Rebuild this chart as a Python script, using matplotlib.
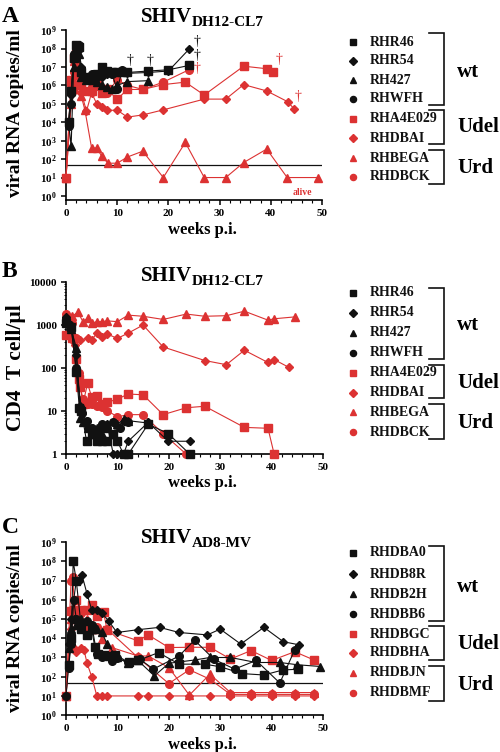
import numpy as np
import matplotlib
matplotlib.use("Agg")
import matplotlib.pyplot as plt
from matplotlib.ticker import FixedLocator, MultipleLocator, FuncFormatter, LogLocator, NullFormatter

plt.rcParams['font.family'] = 'Liberation Serif'
plt.rcParams['font.weight'] = 'bold'
plt.rcParams['mathtext.fontset'] = 'custom'
plt.rcParams['mathtext.rm'] = 'Liberation Serif:bold'
plt.rcParams['mathtext.bf'] = 'Liberation Serif:bold'

RED = '#dc3232'
BLK = '#111111'

# ---------------- panel A : SHIV DH12-CL7 viral RNA ----------------
a_names = ['RHR46', 'RHR54', 'RH427', 'RHWFH', 'RHA4E029', 'RHDBAI', 'RHBEGA', 'RHDBCK']
a_weeks = [
    [0.5, 1, 1.5, 2, 2.5, 3, 4, 5, 6, 7, 8, 9, 10, 11, 12, 16, 20, 24],
    [0.5, 1, 1.5, 2, 2.5, 3, 4, 5, 6, 7, 8, 9, 10, 11, 12, 16, 20, 24],
    [0.5, 1, 1.5, 2, 2.5, 3, 4, 5, 6, 7, 8, 9, 10, 12, 16],
    [0.5, 1, 1.5, 2, 2.5, 3, 4, 5, 6, 7, 8, 9, 10, 11, 12],
    [0, 1, 1.5, 2, 2.5, 3, 4, 5, 6, 7, 8, 10, 12, 15, 19, 23.3, 27, 34.7, 39.2, 40.5],
    [0, 1, 1.5, 2, 3, 4, 5, 6, 7, 8, 10, 12, 15, 19, 27, 31.2, 34.7, 39.2, 43.3, 44.5],
    [0, 1, 1.5, 2, 2.5, 3, 3.7, 5, 6, 7, 8.2, 10, 12, 15, 19, 23.3, 27, 31.2, 34.7, 39.2, 43.2, 49.2],
    [0, 1, 1.5, 2, 2.5, 3, 4, 5, 6, 7, 8, 10, 12, 15, 19, 24],
]
a_vals = [
    [1e4, 5e5, 3e7, 1.5e8, 1.2e8, 5e6, 3e6, 3e6, 4e6, 1e7, 6e6, 5e6, 5e6, 5e6, 5e6, 6e6, 7e6, 1.2e7],
    [1e4, 3e5, 5e7, 1e8, 8e7, 1e7, 3e6, 2.5e6, 3e6, 3e6, 4e6, 4e6, 5e6, 5e6, 4.5e6, 5e6, 6e6, 9e7],
    [1e4, 5e2, 1e7, 1.5e8, 5e7, 3e6, 2e6, 2e6, 1.5e6, 1e6, 8e5, 6e5, 1e6, 1.6e6, 1.8e6],
    [6e3, 1e5, 5e7, 1.5e8, 1.5e8, 8e6, 3e6, 4e6, 3e6, 5e6, 5e6, 4e6, 6e5, 7e6, 5e6],
    [10, 2e6, 3e7, 5e7, 5e6, 1e6, 5e5, 5e5, 1e6, 4e5, 6e5, 1.8e5, 6e5, 6e5, 1.1e6, 1.5e6, 3e5, 1.1e7, 8e6, 5e6],
    [10, 1e5, 5e5, 1e6, 4e5, 4e4, 4e5, 1e5, 6.6e4, 4.4e4, 4.5e4, 1.9e4, 2.5e4, 4.7e4, 1.8e5, 1.8e5, 1.1e6, 5e5, 1.3e5, 5.5e4],
    [10, 1e5, 2e7, 5e6, 1e6, 2.5e5, 4.5e4, 400, 400, 140, 60, 60, 130, 270, 10, 800, 10, 10, 65, 350, 10, 10],
    [10, 1e6, 5e6, 1.5e7, 3e6, 1e6, 5e5, 8e5, 9e5, 5e5, 4e5, 2e6, 1e6, 6e5, 1.5e6, 7e6],
]
a_dagger_x = [12.5, 16.5, 25.6, 25.6, 25.6, 41.6, 45.3]
a_dagger_y = [2.3e7, 2.3e7, 2.5e8, 4e7, 8e6, 2.4e7, 2.5e5]
a_dagger_c = [BLK, BLK, BLK, BLK, RED, RED, RED]

# ---------------- panel B : CD4 T cells ----------------
b_weeks = [
    [0, 1, 2, 2.6, 3, 4, 5, 6, 7, 8, 9.2, 10, 11.2, 12.1, 16, 19.9, 24.1],
    [0, 1, 2, 2.8, 3.1, 4.2, 5, 6, 7, 8, 9.2, 10, 11.2, 12.1, 16, 19.9, 24.1],
    [0, 1, 2, 2.8, 3.4, 4.2, 5, 6, 7, 8, 9.2, 10, 11.2, 12.1, 16],
    [0, 1, 2, 3.1, 4, 5, 6, 7, 8, 9.2, 10.5, 11.5, 12.1],
    [0, 1.2, 2, 2.5, 2.8, 3.3, 4.2, 5, 6, 7, 8, 10, 12.1, 15, 18.9, 23.4, 27, 34.7, 39.3, 40.5],
    [0, 1.2, 1.8, 2.8, 4.2, 5, 6, 7, 8, 10, 12.1, 15, 18.9, 27, 31.2, 34.7, 39.3, 40.5, 43.3],
    [0, 1.2, 2.3, 3.3, 4.2, 5, 6, 7, 8, 10, 12.1, 15, 18.9, 23.4, 27, 31.2, 34.7, 39.3, 40.5, 44.6],
    [0, 1.2, 2, 2.5, 2.8, 3.3, 4.2, 5, 6, 7, 8, 10, 12.1, 15, 18.9, 23.4],
]
b_vals = [
    [1100, 900, 80, 12, 10, 2, 3, 2, 2, 2, 3, 2, 1, 1, 5, 3, 1],
    [1500, 1000, 200, 13, 9, 4, 4, 3, 4, 5, 1, 1, 1, 2, 5.5, 2, 2],
    [1300, 800, 300, 7, 5.5, 4, 3, 4, 3, 4, 3, 5, 6.5, 6, 5.3],
    [1400, 900, 100, 9, 6, 4, 3, 5, 4, 5.5, 4, 6, 5.5],
    [590, 500, 160, 56, 36, 15, 44, 21, 23, 15, 16, 19, 25, 24, 8.3, 12, 13, 4.2, 4, 1],
    [590, 450, 340, 450, 490, 450, 650, 540, 620, 490, 650, 1000, 310, 150, 120, 260, 135, 158, 105],
    [1800, 1600, 2000, 1200, 1450, 1100, 1200, 1200, 1250, 1200, 1700, 1600, 1350, 1800, 1600, 1650, 2100, 1300, 1400, 1550],
    [1800, 1100, 500, 75, 36, 19, 15, 15, 13.5, 12.5, 10.3, 7.4, 8.3, 8.3, 3, 1],
]

# ---------------- panel C : SHIV AD8-MV viral RNA ----------------
c_names = ['RHDBA0', 'RHDB8R', 'RHDB2H', 'RHDBB6', 'RHDBGC', 'RHDBHA', 'RHDBJN', 'RHDBMF']
c_weeks = [
    [0.5, 1, 1.4, 2, 3, 4, 5, 5.6, 6.3, 7.3, 8.4, 9.6, 12.2, 14, 18, 22, 27, 30, 34.3, 38.5, 42.2, 45.2],
    [0.5, 1, 2, 2.6, 3.1, 4.1, 5, 6.1, 7, 8.3, 9.9, 14, 18.2, 22, 27.5, 30, 34, 38.5, 42.3, 45.3],
    [0.5, 1, 1.5, 2, 3, 4, 5, 6, 7, 8, 10, 12, 14, 17.2, 20, 25, 28, 32, 37, 41.6, 45, 49.5],
    [0, 0.5, 1, 1.5, 2, 3, 4, 5, 6, 7, 8.9, 10, 12, 14.4, 17, 22, 25, 28.8, 32.8, 37, 41.6, 44.5],
    [0, 1, 1.5, 2, 3, 4, 5, 6, 7.3, 8, 14, 16, 20, 24, 28, 32, 36, 40, 44.5, 48.3],
    [0, 1, 1.5, 2, 3, 3.5, 4.1, 5, 6, 7, 8, 14, 16, 20, 24, 28, 32, 36, 40, 44.5, 48.3],
    [0, 1, 1.5, 2, 3, 4, 5, 6, 7, 8.9, 14, 16, 20, 24, 28, 32, 36, 40, 44.5, 48.3],
    [0, 1, 1.3, 1.7, 2, 3, 4, 5, 6, 8, 14, 20, 24, 28, 32, 36, 40, 44.5, 48.3],
]
c_vals = [
    [400, 1e4, 1e8, 1e7, 3e4, 1.5e4, 3e4, 3.6e3, 1.6e3, 1.4e3, 1.2e3, 1.4e3, 550, 700, 1.8e3, 450, 450, 330, 145, 123, 225, 245],
    [5e3, 1e5, 1e7, 1e7, 2e7, 2e6, 3e5, 3e5, 2e5, 8e4, 2e4, 2.8e4, 3.7e4, 2e4, 1.5e4, 3e4, 5e3, 3.7e4, 6.6e3, 4.6e3],
    [3e3, 3e4, 1e5, 5e4, 1e5, 8e4, 3e4, 3e4, 2e4, 5e3, 1e3, 500, 700, 110, 500, 740, 1e3, 1e3, 550, 550, 420, 340],
    [10, 300, 5e3, 1e6, 1e5, 5e4, 8e4, 5e4, 1.5e3, 1.1e3, 630, 900, 600, 800, 250, 1.2e3, 8e3, 800, 250, 700, 47, 2.5e3],
    [10, 2.5e5, 3e5, 1e6, 3e5, 3e5, 5.6e5, 1.5e5, 2.2e5, 2.7e4, 7.4e3, 1.5e4, 3.3e3, 3.4e3, 3.4e3, 830, 2.3e3, 700, 2e3, 730],
    [10, 3e4, 3e3, 2e3, 3e3, 2.5e3, 500, 100, 10, 10, 10, 10, 10, 10, 10, 10, 10, 10, 10, 10, 10],
    [10, 1e5, 3e5, 1e5, 5e4, 1e5, 3e4, 3e4, 9e3, 3.3e3, 1.2e3, 1.2e3, 300, 11, 135, 15, 15, 15, 15, 15],
    [10, 1e7, 1.5e7, 3e5, 1e6, 2e5, 3e4, 3e4, 4e4, 3e4, 1e3, 44, 230, 74, 12, 12, 12, 12, 12],
]

b_names = a_names
markers = ['s', 'D', '^', 'o', 's', 'D', '^', 'o']
msizes = [5.5, 4.5, 6, 5.5, 5.5, 4.5, 6, 5.5]
colors = [BLK] * 4 + [RED] * 4

fig = plt.figure(figsize=(5, 7.52), dpi=100)


def style_axis(ax):
    for s in ['top', 'right']:
        ax.spines[s].set_visible(False)
    for s in ['left', 'bottom']:
        ax.spines[s].set_linewidth(1.2)
    ax.set_xlim(0, 50)
    ax.xaxis.set_major_locator(MultipleLocator(10))
    ax.xaxis.set_minor_locator(MultipleLocator(2))
    ax.tick_params(which='major', length=3.5, width=1.1, labelsize=8, pad=3)
    ax.tick_params(which='minor', length=2, width=0.8)
    ax.tick_params(axis='y', which='minor', length=1.3, width=0.6)
    for lab in ax.get_xticklabels() + ax.get_yticklabels():
        lab.set_fontweight('bold')


def draw_series(ax, weeks, vals):
    for i in range(len(weeks)):
        ax.plot(weeks[i], vals[i], color=colors[i], lw=0.8, marker=markers[i],
                ms=msizes[i], mec=colors[i], mfc=colors[i], clip_on=False, zorder=3 + (i < 4))


logfmt = FuncFormatter(lambda v, p: r'$\mathbf{10^{%d}}$' % round(np.log10(v)))

# A
axA = fig.add_axes([0.132, 0.734, 0.512, 0.226])
axA.set_yscale('log')
axA.set_ylim(10 ** -0.22, 1e9)
axA.yaxis.set_major_locator(FixedLocator([10.0 ** k for k in range(10)]))
axA.yaxis.set_minor_locator(LogLocator(base=10, subs=np.arange(2, 10)))
axA.yaxis.set_minor_formatter(NullFormatter())
axA.yaxis.set_major_formatter(logfmt)
axA.axhline(50, color=BLK, lw=0.9, zorder=2)
draw_series(axA, a_weeks, a_vals)
for x, y, c in zip(a_dagger_x, a_dagger_y, a_dagger_c):
    axA.text(x, y, '\u2020', color=c, ha='center', va='center', fontsize=10, fontweight='normal')
axA.text(46.2, 1.6, 'alive', color=RED, ha='center', va='center', fontsize=7, fontweight='bold')
style_axis(axA)

# B
axB = fig.add_axes([0.132, 0.396, 0.514, 0.229])
axB.set_yscale('log')
axB.set_ylim(1, 10000)
axB.yaxis.set_major_locator(FixedLocator([1, 10, 100, 1000, 10000]))
axB.yaxis.set_minor_locator(LogLocator(base=10, subs=np.arange(2, 10)))
axB.yaxis.set_minor_formatter(NullFormatter())
axB.yaxis.set_major_formatter(FuncFormatter(lambda v, p: '%d' % v))
draw_series(axB, b_weeks, b_vals)
style_axis(axB)

# C
axC = fig.add_axes([0.132, 0.049, 0.514, 0.230])
axC.set_yscale('log')
axC.set_ylim(1, 1e9)
axC.yaxis.set_major_locator(FixedLocator([10.0 ** k for k in range(10)]))
axC.yaxis.set_minor_locator(LogLocator(base=10, subs=np.arange(2, 10)))
axC.yaxis.set_minor_formatter(NullFormatter())
axC.yaxis.set_major_formatter(logfmt)
axC.axhline(50, color=BLK, lw=0.9, zorder=2)
draw_series(axC, c_weeks, c_vals)
style_axis(axC)

# overlay in pixel coordinates for labels, titles and legends
ov = fig.add_axes([0, 0, 1, 1], zorder=10)
ov.set_xlim(0, 500)
ov.set_ylim(752, 0)
ov.axis('off')
ov.patch.set_alpha(0)

panels = [
    ('A', 22, 'DH12-CL7', 22, 'viral RNA copies/ml', 14, 113, 230, a_names,
     [42, 61, 80, 99, 119, 138, 158, 177], [(33, 105), (110, 144), (150, 184)], [72, 127, 168]),
    ('B', 277, 'DH12-CL7', 281, 'CD4  T cell/\u00b5l', 15.5, 368, 483, b_names,
     [293, 313, 333, 353, 373, 393, 412, 432], [(288, 359), (365, 398), (404, 439)], [325, 383, 423]),
    ('C', 533, 'AD8-MV', 543, 'viral RNA copies/ml', 14, 628, 745, c_names,
     [553, 574, 594, 614, 634, 653, 673, 693], [(546, 621), (626, 660), (666, 701)], [587, 644, 685]),
]

for letter, ly, sub, ty, ylab, ysize, ymid, wy, names, rows, brackets, gy in panels:
    ov.text(2, ly, letter, fontsize=17, fontweight='bold', va='baseline', ha='left')
    t = ov.text(141, ty, 'SHIV', fontsize=15, fontweight='bold', va='baseline', ha='left')
    ov.annotate(sub, xy=(1, 0.05), xycoords=t, fontsize=11, fontweight='bold', va='baseline', ha='left')
    ov.text(16, ymid, ylab, rotation=90, fontsize=ysize, fontweight='bold', ha='center', va='center')
    ov.text(202, wy, 'weeks p.i.', fontsize=12, fontweight='bold', ha='center', va='center')
    for i, nm in enumerate(names):
        ov.plot(353, rows[i], marker=markers[i], color=colors[i], ms=msizes[i] * 0.8, ls='none')
        ov.text(370, rows[i], nm, fontsize=10, fontweight='bold', ha='left', va='center', color=BLK)
    for (y0, y1), g, lab in zip(brackets, gy, ['wt', 'Udel', 'Urd']):
        ov.plot([429, 444, 444, 429], [y0, y0, y1, y1], color=BLK, lw=1.2, solid_joinstyle='miter')
        ov.text(457, g, lab, fontsize=15, fontweight='bold', ha='left', va='center')

fig.savefig('out.png', dpi=100)
